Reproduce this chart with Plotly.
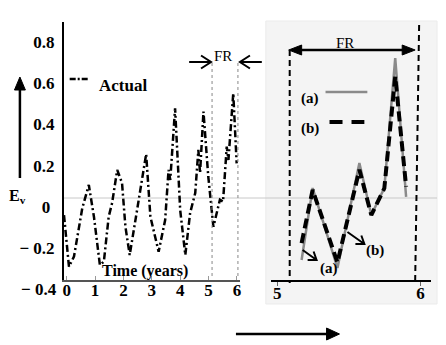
import math
import plotly.graph_objects as go

# ---------------- data ----------------
actual_t = [-0.095, 0.08, 0.256, 0.49, 0.55, 0.78, 0.96, 1.17, 1.31, 1.48, 1.6, 1.78, 1.95,
            2.07, 2.22, 2.48, 2.71, 2.8, 2.95, 3.24, 3.47, 3.59, 3.65, 3.82, 4.0, 4.18,
            4.35, 4.53, 4.64, 4.7, 4.82, 4.99, 5.17, 5.4, 5.51, 5.64, 5.7, 5.87, 5.99]
actual_ev = [-0.04, -0.291, -0.242, -0.048, -0.006, 0.106, -0.048, -0.283, -0.266, -0.048,
             0.018, 0.179, 0.116, -0.097, -0.234, -0.016, 0.179, 0.256, -0.048, -0.218,
             -0.064, 0.179, 0.130, 0.478, -0.016, -0.234, -0.03, 0.067, 0.276, 0.164,
             0.462, 0.146, -0.097, 0.034, 0.025, 0.292, 0.227, 0.551, 0.211]

fr_t = [5.170, 5.247, 5.420, 5.573, 5.656, 5.747, 5.823, 5.899]
fr_a = [-0.258, 0.091, -0.297, 0.213, -0.04, 0.091, 0.722, 0.048]
fr_b = [-0.176, 0.082, -0.27, 0.18, -0.04, 0.09, 0.632, 0.098]

x_ticks_left = [0, 1, 2, 3, 4, 5, 6]
x_ticks_right = [5, 6]
y_ticks = [0.8, 0.6, 0.4, 0.2, 0, -0.2]
y_tick_text = ["0.8", "0.6", "0.4", "0.2", "0\u00a0", "\u2212 0.2"]
y_extra_tick = -0.4
y_extra_text = "\u2212 0.4"

# ---------------- helpers (pixel -> paper) ----------------
W, H = 446, 345
def px(x): return x / W
def py(y): return 1 - y / H

Y_DOMAIN = [py(280), py(22)]
Y_RANGE = [-0.3553, 0.897]
def yval_to_paper(v):
    return Y_DOMAIN[0] + (v - Y_RANGE[0]) / (Y_RANGE[1] - Y_RANGE[0]) * (Y_DOMAIN[1] - Y_DOMAIN[0])

SERIF = "Liberation Serif"

fig = go.Figure()
fig.add_trace(go.Scatter(x=actual_t, y=actual_ev, mode="lines", xaxis="x", yaxis="y",
                         line=dict(color="black", width=2.5, dash="7px,3px,2px,3px"),
                         showlegend=False))
fig.add_trace(go.Scatter(x=fr_t, y=fr_a, mode="lines", xaxis="x2", yaxis="y",
                         line=dict(color="#8a8a8a", width=2.5), showlegend=False))
fig.add_trace(go.Scatter(x=fr_t, y=fr_b, mode="lines", xaxis="x2", yaxis="y",
                         line=dict(color="black", width=4, dash="10px,5px"), showlegend=False))

shapes = []
shapes.append(dict(type="rect", xref="paper", yref="paper", x0=px(266), x1=px(438),
                   y0=py(304), y1=py(21), fillcolor="#f4f4f4",
                   line=dict(color="#ebebeb", width=1), layer="below"))
shapes.append(dict(type="line", xref="paper", yref="paper", x0=px(63), x1=px(438),
                   y0=py(198), y1=py(198), line=dict(color="#c8c8c8", width=1), layer="below"))
for xx in (212, 238):
    shapes.append(dict(type="line", xref="paper", yref="paper", x0=px(xx), x1=px(xx),
                       y0=py(63), y1=py(279), line=dict(color="#888", width=1, dash="dot")))
shapes.append(dict(type="line", xref="paper", yref="paper", x0=px(290), x1=px(290),
                   y0=py(50), y1=py(283), line=dict(color="black", width=2, dash="6px,4px")))
shapes.append(dict(type="line", xref="paper", yref="paper", x0=px(420), x1=px(416),
                   y0=py(25), y1=py(283), line=dict(color="black", width=2, dash="6px,4px")))
shapes.append(dict(type="line", xref="paper", yref="paper", x0=px(69), x1=px(89),
                   y0=py(79), y1=py(79), line=dict(color="black", width=2.5, dash="6px,2px,2px,2px")))
shapes.append(dict(type="line", xref="paper", yref="paper", x0=px(326), x1=px(368),
                   y0=py(92), y1=py(92), line=dict(color="#8a8a8a", width=2.5)))
shapes.append(dict(type="line", xref="paper", yref="paper", x0=px(330), x1=px(365),
                   y0=py(122), y1=py(122), line=dict(color="black", width=4, dash="13px,9px")))

def open_arrow(x0, y0, x1, y1, L=10, ang=35):
    d = math.atan2(y1 - y0, x1 - x0)
    a1 = (x1 - L * math.cos(d - math.radians(ang)), y1 - L * math.sin(d - math.radians(ang)))
    a2 = (x1 - L * math.cos(d + math.radians(ang)), y1 - L * math.sin(d + math.radians(ang)))
    p = (f"M {px(x0)},{py(y0)} L {px(x1)},{py(y1)} "
         f"M {px(a1[0])},{py(a1[1])} L {px(x1)},{py(y1)} L {px(a2[0])},{py(a2[1])}")
    return dict(type="path", xref="paper", yref="paper", path=p,
                line=dict(color="black", width=2))

def head(xt, yt, dx, dy, L, w):
    # filled triangle with tip at (xt, yt) pointing along (dx, dy)
    n = math.hypot(dx, dy); ux, uy = dx / n, dy / n
    bx, by = xt - ux * L, yt - uy * L
    p1 = (bx - uy * w / 2, by + ux * w / 2)
    p2 = (bx + uy * w / 2, by - ux * w / 2)
    path = (f"M {px(xt)},{py(yt)} L {px(p1[0])},{py(p1[1])} "
            f"L {px(p2[0])},{py(p2[1])} Z")
    return dict(type="path", xref="paper", yref="paper", path=path,
                fillcolor="black", line=dict(color="black", width=1))

def shaft(x0, y0, x1, y1, w=2.5):
    return dict(type="line", xref="paper", yref="paper", x0=px(x0), x1=px(x1),
                y0=py(y0), y1=py(y1), line=dict(color="black", width=w))

shapes.append(open_arrow(189, 62, 211, 62, L=12, ang=33))
shapes.append(open_arrow(262, 62, 240, 62, L=12, ang=33))
shapes.append(open_arrow(303, 250, 317, 260, L=9, ang=35))
shapes.append(open_arrow(348, 232, 365, 244, L=9, ang=35))

# up arrow (left), right arrow (bottom), FR double arrow (right panel)
shapes.append(shaft(19, 178, 19, 88, 2.5))
shapes.append(head(19, 77, 0, -1, 13, 11))
shapes.append(shaft(236, 334, 330, 334, 2.5))
shapes.append(head(340, 334, 1, 0, 13, 12))
shapes.append(shaft(298, 50, 407, 50, 2.5))
shapes.append(head(289, 50, -1, 0, 13, 10))
shapes.append(head(416, 50, 1, 0, 13, 10))

annotations = []
annotations.append(dict(x=px(58), xref="paper", y=yval_to_paper(y_extra_tick), yref="paper",
                        text=y_extra_text, showarrow=False, xanchor="right", yanchor="middle",
                        font=dict(family=SERIF, size=17, color="black", weight="bold")))

def txt(x, y, s, size=16, bold=True, anchor="center"):
    annotations.append(dict(x=px(x), y=py(y), xref="paper", yref="paper", text=s,
                            showarrow=False, xanchor=anchor, yanchor="middle",
                            font=dict(family=SERIF, size=size, color="black",
                                      weight="bold" if bold else "normal")))

txt(17, 196, "E<sub>v</sub>", 16)
txt(96, 85, "Actual", 17, anchor="left")
txt(145, 271, "Time (years)", 16)
txt(223, 56, "FR", 15, bold=False)
txt(346, 43, "FR", 15, bold=False)
txt(310, 98, "(a)", 15)
txt(310, 128, "(b)", 15)
txt(329, 268, "(a)", 15)
txt(376, 250, "(b)", 15)

tickfont = dict(family=SERIF, size=17, color="black", weight="bold")

fig.update_layout(
    width=W, height=H, margin=dict(l=0, r=0, t=0, b=0),
    paper_bgcolor="white", plot_bgcolor="rgba(0,0,0,0)",
    shapes=shapes, annotations=annotations,
    xaxis=dict(domain=[px(63), px(240)], range=[-0.105, 6.105], anchor="y",
               showline=True, linecolor="#555", linewidth=2, showgrid=False, zeroline=False,
               tickvals=x_ticks_left, ticks="inside", ticklen=4, tickcolor="#999",
               tickfont=tickfont, ticklabelstandoff=-6),
    xaxis2=dict(domain=[px(271), px(432)], range=[4.955, 6.073], anchor="y",
                showline=True, linecolor="black", linewidth=1.5, showgrid=False,
                zeroline=False, tickvals=x_ticks_right, ticks="outside", ticklen=4,
                tickcolor="#666", tickfont=tickfont, ticklabelstandoff=-7),
    yaxis=dict(domain=Y_DOMAIN, range=Y_RANGE, anchor="x",
               showline=True, linecolor="black", linewidth=1.5, showgrid=False,
               zeroline=False, tickvals=y_ticks, ticktext=y_tick_text, ticks="",
               tickfont=tickfont, ticklabelstandoff=4),
)

fig.write_html("out.html", config={"displayModeBar": False},
               post_script="document.body.style.margin='0';document.body.style.overflow='hidden';")
